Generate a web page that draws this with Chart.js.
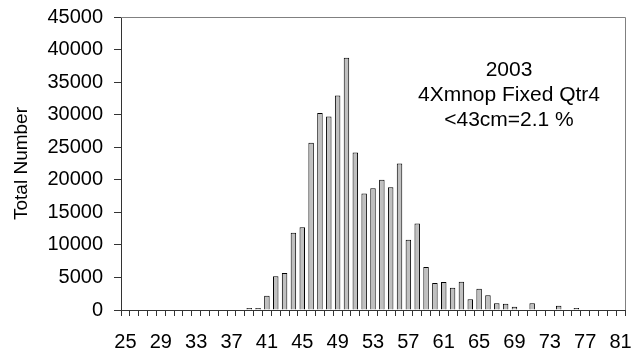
<!DOCTYPE html>
<html>
<head>
<meta charset="utf-8">
<script src="https://cdn.jsdelivr.net/npm/chart.js@4"></script>
<style>
  body { margin: 0; background: #fff; }
  #wrap { width: 631px; height: 353px; }
</style>
</head>
<body>
<div id="wrap"><canvas id="lengthChart" width="631" height="353"></canvas></div>
<script>
// Length classes (cm) on the x axis
const sizes = [25, 26, 27, 28, 29, 30, 31, 32, 33, 34, 35, 36, 37, 38,
    39, 40, 41, 42, 43, 44, 45, 46, 47, 48, 49, 50, 51, 52, 53, 54,
    55, 56, 57, 58, 59, 60, 61, 62, 63, 64, 65, 66, 67, 68, 69, 70,
    71, 72, 73, 74, 75, 76, 77, 78, 79, 80, 81];

// Total number per length class
const totals = [0, 0, 0, 0, 0, 0, 0, 0, 0, 0, 0, 0, 0, 0,
    300, 300, 2200, 5200, 5700, 11850, 12700, 25700, 30250, 29700, 32950, 38750, 24200, 17900, 18700, 20000,
    18850, 22500, 10800, 13300, 6600, 4150, 4300, 3400, 4350, 1650, 3250, 2250, 1050, 950, 500, 0,
    1050, 0, 0, 650, 0, 300, 0, 0, 0, 0, 0];

// Only these length classes get a label
const xTickLabels = [25, 29, 33, 37, 41, 45, 49, 53, 57, 61, 65, 69, 73, 77, 81];

const noteLines = ['2003', '4Xmnop Fixed Qtr4', '<43cm=2.1 %'];

Chart.defaults.font.family = "'Liberation Sans', Arial, sans-serif";
Chart.defaults.color = '#000';

// Draws the gray frame on top/right and the text note
const framePlugin = {
    id: 'frame',
    afterDraw(chart) {
        const { ctx, chartArea: a } = chart;
        ctx.save();
        ctx.strokeStyle = '#808080';
        ctx.lineWidth = 1;
        ctx.beginPath();
        ctx.moveTo(a.left, Math.round(a.top) + 0.5);
        ctx.lineTo(Math.round(a.right) + 0.5, Math.round(a.top) + 0.5);
        ctx.lineTo(Math.round(a.right) + 0.5, a.bottom);
        ctx.stroke();

        ctx.fillStyle = '#000';
        ctx.font = "21px 'Liberation Sans', Arial, sans-serif";
        ctx.textAlign = 'center';
        ctx.textBaseline = 'middle';
        noteLines.forEach((line, i) => {
            ctx.fillText(line, 509, 70 + i * 25);
        });
        ctx.restore();
    }
};

const ctx = document.getElementById('lengthChart').getContext('2d');
const lengthChart = new Chart(ctx, {
    type: 'bar',
    data: {
        labels: sizes,
        datasets: [{
            data: totals,
            backgroundColor: '#c0c0c0',
            borderColor: '#000',
            borderWidth: 1,
            categoryPercentage: 1,
            barPercentage: 0.62
        }]
    },
    options: {
        responsive: false,
        animation: false,
        layout: { padding: { left: 0, right: 6, top: 17, bottom: 0 } },
        plugins: {
            legend: { display: false },
            tooltip: { enabled: false }
        },
        scales: {
            x: {
                grid: {
                    offset: true,
                    drawOnChartArea: false,
                    color: '#333',
                    tickLength: 6
                },
                border: { color: '#333' },
                ticks: {
                    autoSkip: false,
                    maxRotation: 0,
                    padding: 14,
                    font: { size: 20 },
                    callback: (val, idx) => xTickLabels.includes(sizes[idx]) ? sizes[idx] : ''
                },
                afterFit: scale => {
                    scale.height = 43;
                    scale.paddingLeft = 0;
                    scale.paddingRight = 0;
                }
            },
            y: {
                min: 0,
                max: 45000,
                grid: {
                    drawOnChartArea: false,
                    color: '#333',
                    tickLength: 7
                },
                border: { color: '#333' },
                ticks: {
                    stepSize: 5000,
                    padding: 11,
                    font: { size: 20 },
                    callback: val => String(val)
                },
                title: {
                    display: true,
                    text: 'Total Number',
                    font: { size: 19 },
                    padding: { top: 10, bottom: 0 }
                },
                afterFit: scale => {
                    scale.width = 121;
                    scale.paddingTop = 0;
                    scale.paddingBottom = 0;
                }
            }
        }
    },
    plugins: [framePlugin]
});
</script>
</body>
</html>
